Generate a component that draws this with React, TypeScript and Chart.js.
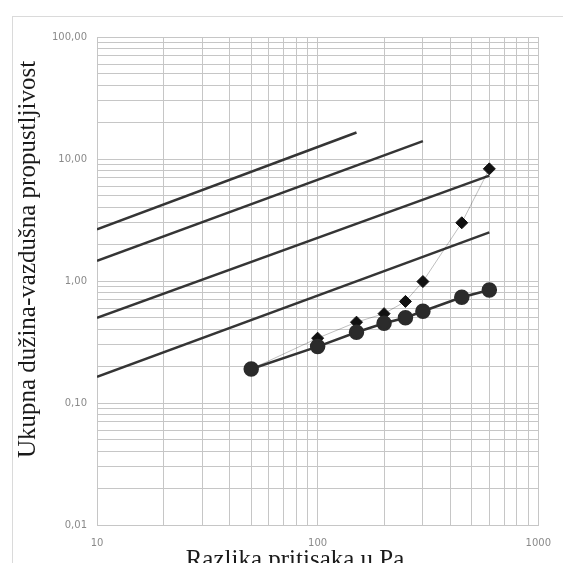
import { useEffect, useRef } from "react";
import { Chart, registerables } from "chart.js";

Chart.register(...registerables);

// ---- data ----
const pressureDiffs = [50, 100, 150, 200, 250, 300, 450, 600];
const circleValues = [0.19, 0.29, 0.38, 0.45, 0.5, 0.565, 0.735, 0.845];
const diamondValues = [0.19, 0.34, 0.46, 0.54, 0.68, 0.99, 3.0, 8.3];

const refLineStartX = [10, 10, 10, 10];
const refLineEndX = [150, 300, 600, 600];
const refLineStartY = [2.65, 1.46, 0.5, 0.164];
const refLineEndY = [16.5, 14.0, 7.3, 2.5];

const xTickValues = [10, 100, 1000];
const xTickLabels = ["10", "100", "1000"];
const yTickValues = [0.01, 0.1, 1, 10, 100];
const yTickLabels = ["0,01", "0,10", "1,00", "10,00", "100,00"];
const minorMultipliers = [1, 2, 3, 4, 5, 6, 7, 8, 9];

const xTitle = "Razlika pritisaka u Pa";
const yTitle = "Ukupna dužina-vazdušna propustljivost";

function gridValues(decades: number[]): number[] {
  const out: number[] = [];
  for (let i = 0; i < decades.length - 1; i++) {
    for (const m of minorMultipliers) out.push(parseFloat((decades[i] * m).toPrecision(6)));
  }
  out.push(decades[decades.length - 1]);
  return out;
}

function labelFor(values: number[], labels: string[], v: number): string {
  const i = values.findIndex((t) => Math.abs(Math.log10(t) - Math.log10(v)) < 1e-6);
  return i >= 0 ? labels[i] : "";
}

const titlePlugin = {
  id: "axisTitles",
  afterDraw(chart: any) {
    const ctx = chart.ctx;
    ctx.save();
    ctx.fillStyle = "#1a1a1a";
    ctx.font = '25px "Liberation Serif", "Times New Roman", serif';
    ctx.textAlign = "center";
    ctx.textBaseline = "alphabetic";
    ctx.fillText(xTitle, 295, 567);
    ctx.translate(35, 259.5);
    ctx.rotate(-Math.PI / 2);
    ctx.fillText(yTitle, 0, 0);
    ctx.restore();
  },
};

export default function App() {
  const canvasRef = useRef<HTMLCanvasElement | null>(null);

  useEffect(() => {
    if (!canvasRef.current) return;
    const refDatasets = refLineStartX.map((x0, i) => ({
      label: "ref" + i,
      data: [
        { x: x0, y: refLineStartY[i] },
        { x: refLineEndX[i], y: refLineEndY[i] },
      ],
      borderColor: "#353535",
      borderWidth: 2.5,
      pointRadius: 0,
      showLine: true,
      fill: false,
    }));

    const tickFont = { family: '"DejaVu Sans", Arial, sans-serif', size: 10 };

    const chart = new Chart(canvasRef.current, {
      type: "scatter",
      data: {
        datasets: [
          {
            label: "circles",
            data: pressureDiffs.map((x, i) => ({ x, y: circleValues[i] })),
            showLine: true,
            borderColor: "#333",
            borderWidth: 2.5,
            pointStyle: "circle",
            pointRadius: 6.5,
            pointBackgroundColor: "#2b2b2b",
            pointBorderColor: "#2b2b2b",
          },
          {
            label: "diamonds",
            data: pressureDiffs.map((x, i) => ({ x, y: diamondValues[i] })),
            showLine: true,
            borderColor: "rgba(0,0,0,0.25)",
            borderWidth: 1,
            pointStyle: "rectRot",
            pointRadius: 6,
            pointBackgroundColor: "#111",
            pointBorderColor: "#111",
          },
          ...refDatasets,
        ],
      },
      options: {
        responsive: false,
        animation: false,
        layout: { padding: { left: 0, top: 37, right: 21, bottom: 0 } },
        plugins: { legend: { display: false }, tooltip: { enabled: false } },
        scales: {
          x: {
            type: "logarithmic",
            min: 10,
            max: 1000,
            afterBuildTicks: (scale: any) => {
              scale.ticks = gridValues(xTickValues).map((value) => ({ value }));
            },
            afterFit: (scale: any) => {
              scale.height = 38;
            },
            ticks: {
              autoSkip: false,
              maxRotation: 0,
              padding: 12,
              color: "#8a8a8a",
              font: tickFont,
              callback: (v: any) => labelFor(xTickValues, xTickLabels, Number(v)),
            },
            grid: { color: "#c6c6c6", lineWidth: 1, drawTicks: false },
            border: { color: "#c6c6c6" },
          },
          y: {
            type: "logarithmic",
            min: 0.01,
            max: 100,
            afterBuildTicks: (scale: any) => {
              scale.ticks = gridValues(yTickValues).map((value) => ({ value }));
            },
            afterFit: (scale: any) => {
              scale.width = 97;
            },
            ticks: {
              autoSkip: false,
              padding: 10,
              color: "#8a8a8a",
              font: tickFont,
              callback: (v: any) => labelFor(yTickValues, yTickLabels, Number(v)),
            },
            grid: { color: "#c6c6c6", lineWidth: 1, drawTicks: false },
            border: { color: "#c6c6c6" },
          },
        },
      },
      plugins: [titlePlugin],
    } as any);
    return () => chart.destroy();
  }, []);

  return (
    <div style={{ position: "absolute", left: 0, top: 0, width: 563, height: 563, overflow: "hidden", background: "#fff" }}>
      <div
        style={{
          position: "absolute",
          left: 12,
          top: 16,
          width: 551,
          height: 547,
          borderTop: "1px solid #dadada",
          borderLeft: "1px solid #dadada",
          boxSizing: "border-box",
        }}
      />
      <canvas ref={canvasRef} width={563} height={563} style={{ position: "absolute", left: 0, top: 0 }} />
    </div>
  );
}
